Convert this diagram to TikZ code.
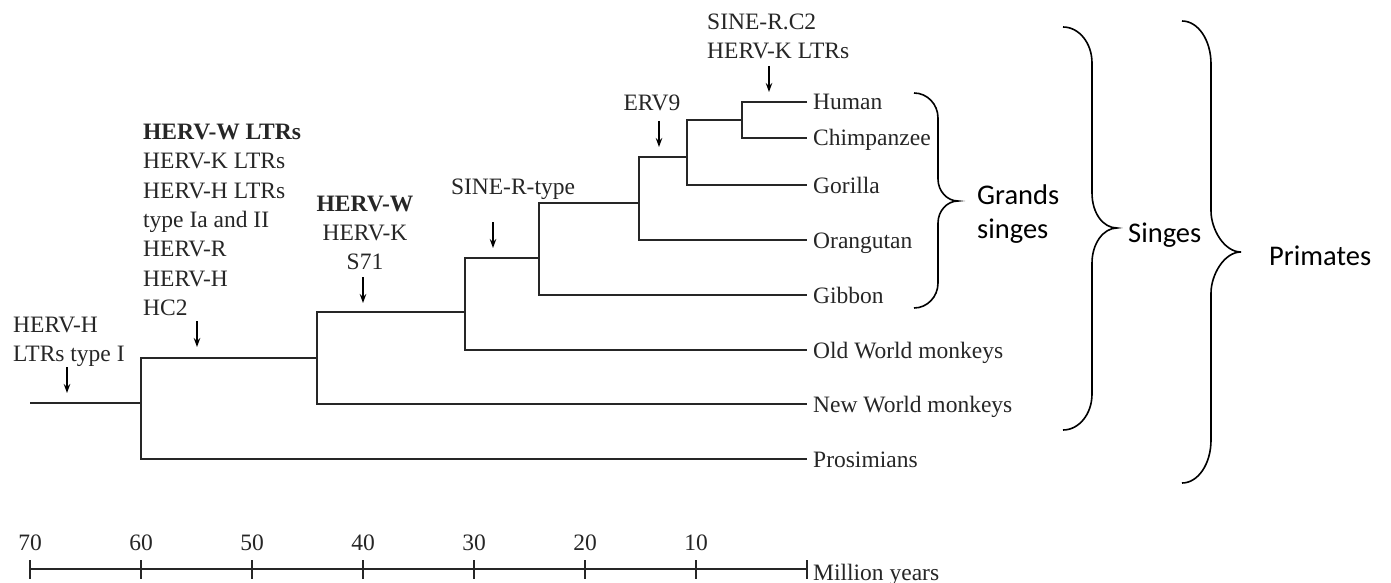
\documentclass[tikz,border=0pt]{standalone}
\usepackage{fontspec}
\setmainfont{Liberation Serif}
\newfontfamily\calibri{Carlito}
\usetikzlibrary{arrows.meta}

\begin{document}
\begin{tikzpicture}[x=1pt, y=-1pt,
    branch/.style={line width=1.2pt, black!85},
    evt/.style={line width=1.3pt, -{Stealth[length=9pt,width=6.5pt]}},
    lbl/.style={inner sep=0pt, font=\fontsize{23.5}{29.3}\selectfont, text=black!85},
    leaf/.style={lbl, anchor=west, inner xsep=6pt, text height=16pt, text depth=0pt},
    grp/.style={inner sep=0pt, anchor=west, font=\calibri\fontsize{28.5}{34}\selectfont},
    brc/.style={line width=1.6pt},
    axisline/.style={line width=1.5pt, black!85}]
      \useasboundingbox[fill=white] (0,0) rectangle (1391,583);

      % branch points
      \coordinate (r0) at (30,403);
      \coordinate (n60) at (141,403);
      \coordinate (n44) at (317,358);
      \coordinate (n30) at (465,312);
      \coordinate (n24) at (539,258);
      \coordinate (n15) at (639,203);
      \coordinate (n11) at (687,157);
      \coordinate (n6) at (742,120);

      % leaves
      \node[leaf] (human) at (807,102) {Human};
      \node[leaf] (chimp) at (807,138) {Chimpanzee};
      \node[leaf] (gorilla) at (807,185) {Gorilla};
      \node[leaf] (orang) at (807,240) {Orangutan};
      \node[leaf] (gibbon) at (807,295) {Gibbon};
      \node[leaf] (owm) at (807,350) {Old World monkeys};
      \node[leaf] (nwm) at (807,404) {New World monkeys};
      \node[leaf] (prosim) at (807,459) {Prosimians};

      \draw[branch] (r0) -- (n60);
      \draw[branch] (n44) -| (n60) |- (prosim.west);
      \draw[branch] (n30) -| (n44) |- (nwm.west);
      \draw[branch] (n24) -| (n30) |- (owm.west);
      \draw[branch] (n15) -| (n24) |- (gibbon.west);
      \draw[branch] (n11) -| (n15) |- (orang.west);
      \draw[branch] (n6) -| (n11) |- (gorilla.west);
      \draw[branch] (human.west) -| (n6) |- (chimp.west);

      % insertion events
      \node[lbl, anchor=west, align=left] (hervhI) at (13,341.5) {HERV-H\\LTRs type I};
      \node[lbl, anchor=west, align=left] (early) at (143,220)
        {\textbf{HERV-W LTRs}\\HERV-K LTRs\\HERV-H LTRs\\type Ia and II\\HERV-R\\HERV-H\\HC2};
      \node[lbl, align=center] (hervw) at (365,233) {\textbf{HERV-W}\\HERV-K\\S71};
      \node[lbl] (siner) at (513,189.5) {SINE-R-type};
      \node[lbl] (erv9) at (652,103) {ERV9};
      \node[lbl, anchor=west, align=left] (sinec2) at (707,36.5) {SINE-R.C2\\HERV-K LTRs};

      \coordinate (tI) at (67,393);
      \coordinate (tHC) at (197,347);
      \coordinate (tW) at (363,303);
      \coordinate (tR) at (493,248);
      \coordinate (tE) at (659,147);
      \coordinate (tC) at (769,92);
      \foreach \t in {tI,tHC,tW,tR,tE,tC}
        \draw[evt] (\t) ++(0,-26) -- (\t);

      % time axis
      \coordinate (ax0) at (30,569);
      \coordinate (ax1) at (807,569);
      \draw[axisline] (ax0) -- (ax1);
      \foreach \yr [count=\i from 0] in {70,60,50,40,30,20,10} {
        \draw[axisline] (30+111*\i,560) -- (30+111*\i,579);
        \node[lbl] (y\yr) at (30+111*\i,543) {\yr};
      }
      \draw[axisline] (807,560) -- (807,579);
      \node[leaf] (myr) at (807,572) {Million years};

      % groups
      \draw[brc] (914,93) .. controls (927,93) and (938,104) .. (938,118) -- (938,179)
        .. controls (938,191) and (947,201) .. (958,201)
        .. controls (947,201) and (938,211) .. (938,223) -- (938,283)
        .. controls (938,297) and (927,308) .. (914,308);
      \draw[brc] (1063,27) .. controls (1079,27) and (1092,43) .. (1092,63) -- (1092,193)
        .. controls (1092,213) and (1103,228) .. (1117,228)
        .. controls (1103,228) and (1092,244) .. (1092,263) -- (1092,394)
        .. controls (1092,414) and (1079,430) .. (1063,430);
      \draw[brc] (1182,21) .. controls (1198,21) and (1211,40) .. (1211,64) -- (1211,211)
        .. controls (1211,229) and (1224,252) .. (1241,252)
        .. controls (1224,252) and (1211,275) .. (1211,293) -- (1211,440)
        .. controls (1211,464) and (1198,483) .. (1182,483);
      \node[grp, align=left] (grands) at (977,214) {Grands\\singes};
      \node[grp] (singes) at (1128,235) {Singes};
      \node[grp] (primates) at (1269,256) {Primates};
\end{tikzpicture}
\end{document}
